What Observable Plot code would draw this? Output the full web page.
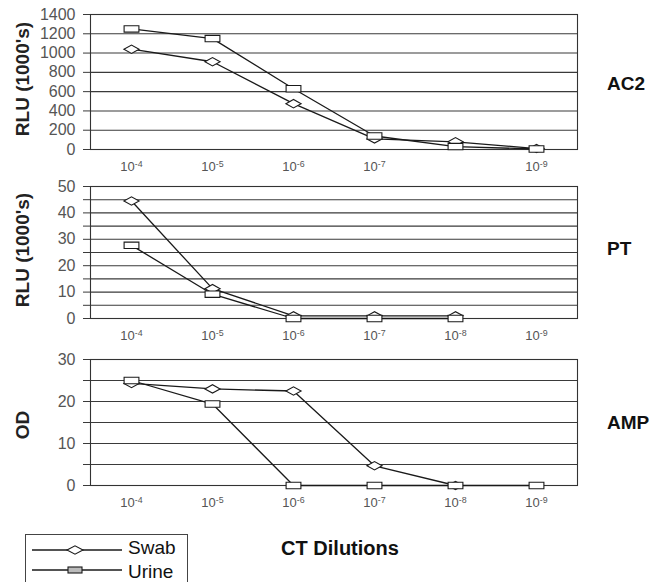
<!DOCTYPE html>
<html><head><meta charset="utf-8">
<script src="https://cdn.jsdelivr.net/npm/d3@7"></script>
<script src="https://cdn.jsdelivr.net/npm/@observablehq/plot@0.6"></script>
<style>
body{margin:0;background:#fff;font-family:"Liberation Sans",Arial,Helvetica,sans-serif;}
#wrap{position:relative;width:654px;height:582px;overflow:hidden;background:#fff}
.panel{position:absolute;left:0}
.panel svg{overflow:visible}
.ytitle{position:absolute;font-weight:bold;font-size:19px;color:#222;transform:translate(-50%,-50%) rotate(-90deg);white-space:nowrap;line-height:1}
.rlabel{position:absolute;left:607px;font-weight:bold;font-size:19px;color:#111;transform:translateY(-50%);line-height:1}
#legend{position:absolute;left:25px;top:534px;width:163px;height:52px;border:1px solid #444;box-sizing:border-box}
#xtitle{position:absolute;left:340px;top:548px;transform:translate(-50%,-50%);font-weight:bold;font-size:20px;color:#111;white-space:nowrap;line-height:1}
</style></head>
<body><div id="wrap"></div>
<script>
// categories: CT dilution exponents (10^x)
const dilutions = [-4, -5, -6, -7, -8, -9];
const seriesNames = ["Swab", "Urine"];

// AC2 (RLU 1000's)
const ac2Swab  = [1040, 910, 475, 110, 80, 10];
const ac2Urine = [1250, 1150, 630, 140, 30, 5];
const ac2Labels = [0, 200, 400, 600, 800, 1000, 1200, 1400];
const ac2Grid   = [0, 200, 400, 600, 800, 1000, 1200, 1400];
const ac2XLabels = [-4, -5, -6, -7, -9];

// PT (RLU 1000's)
const ptSwab  = [44.5, 11.3, 1, 1, 1, null];
const ptUrine = [27.7, 9.2, 0, 0, 0, null];
const ptLabels = [0, 10, 20, 30, 40, 50];
const ptGrid   = [0, 5, 10, 15, 20, 25, 30, 35, 40, 45, 50];
const ptXLabels = [-4, -5, -6, -7, -8, -9];

// AMP (OD)
const ampSwab  = [24.3, 23, 22.5, 4.7, 0, null];
const ampUrine = [25, 19.4, 0, 0, 0, 0];
const ampLabels = [0, 10, 20, 30];
const ampGrid   = [0, 5, 10, 15, 20, 25, 30];
const ampXLabels = [-4, -5, -6, -7, -8, -9];

const panelTitles = ["RLU (1000's)", "RLU (1000's)", "OD"];
const panelNames = ["AC2", "PT", "AMP"];

const wideDiamond = {draw(ctx, size) {
  const r = Math.sqrt(size / Math.PI), w = r * 1.9, h = r * 1.05;
  ctx.moveTo(-w, 0); ctx.lineTo(0, -h); ctx.lineTo(w, 0); ctx.lineTo(0, h); ctx.closePath();
}};
const wideRect = {draw(ctx, size) {
  const r = Math.sqrt(size / Math.PI), w = r * 1.85, h = r * 0.8;
  ctx.rect(-w, -h, 2 * w, 2 * h);
}};

const wrap = document.getElementById("wrap");
const svgns = "http://www.w3.org/2000/svg";

function panel(cfg) {
  const rows = [];
  dilutions.forEach((d, i) => {
    if (cfg.swab[i] != null) rows.push({dil: d, series: "Swab", value: cfg.swab[i]});
  });
  dilutions.forEach((d, i) => {
    if (cfg.urine[i] != null) rows.push({dil: d, series: "Urine", value: cfg.urine[i]});
  });
  const ink = "#1a1a1a";
  const chart = Plot.plot({
    width: 654, height: 170,
    marginLeft: 90, marginRight: 77, marginTop: cfg.mt, marginBottom: cfg.mb,
    style: {fontFamily: "Liberation Sans, Arial, Helvetica, sans-serif", background: "transparent", overflow: "visible"},
    x: {type: "point", domain: dilutions, padding: 0.5, label: null},
    y: {domain: [0, cfg.max], label: null, nice: false},
    marks: [
      Plot.gridY(cfg.grid, {stroke: "#3a3a3a", strokeOpacity: 1, strokeWidth: 1.1}),
      Plot.frame({stroke: "#333", strokeWidth: 1.1}),
      Plot.axisY(cfg.grid, {tickSize: 7, tickPadding: 8, fontSize: 16, fill: "#555", stroke: "#3a3a3a",
        tickFormat: d => cfg.labels.includes(d) ? String(d) : "", label: null}),
      Plot.axisX(cfg.xlabels, {tickSize: 0, tickPadding: 12, fontSize: 13, fill: "#555",
        tickFormat: d => "10|" + d, label: null}),
      Plot.line(rows, {x: "dil", y: "value", z: "series", stroke: ink, strokeWidth: 1.3}),
      Plot.dot(rows.filter(d => d.series === "Swab"), {x: "dil", y: "value", r: 4, symbol: wideDiamond, fill: "white", stroke: ink, strokeWidth: 1.1}),
      Plot.dot(rows.filter(d => d.series === "Urine"), {x: "dil", y: "value", r: 4, symbol: wideRect, fill: "white", stroke: ink, strokeWidth: 1.1})
    ]
  });
  // superscript exponents in x tick labels
  chart.querySelectorAll("text").forEach(t => {
    if (t.textContent.startsWith("10|")) {
      const [b, e] = t.textContent.split("|");
      t.textContent = b;
      const ts = document.createElementNS(svgns, "tspan");
      ts.setAttribute("dy", "-0.45em");
      ts.setAttribute("font-size", "0.68em");
      ts.textContent = e;
      t.appendChild(ts);
    }
  });
  const div = document.createElement("div");
  div.className = "panel";
  div.style.top = cfg.top + "px";
  div.appendChild(chart);
  wrap.appendChild(div);

  const yt = document.createElement("div");
  yt.className = "ytitle";
  yt.style.left = "22px"; yt.style.top = cfg.ty + "px";
  yt.textContent = cfg.title;
  wrap.appendChild(yt);

  const rl = document.createElement("div");
  rl.className = "rlabel";
  rl.style.top = cfg.ry + "px";
  rl.textContent = cfg.name;
  wrap.appendChild(rl);
}

panel({top: 0, mt: 14, mb: 21, max: 1400, swab: ac2Swab, urine: ac2Urine, grid: ac2Grid, labels: ac2Labels, xlabels: ac2XLabels, title: panelTitles[0], name: panelNames[0], ty: 79, ry: 83});
panel({top: 170, mt: 16, mb: 22, max: 50, swab: ptSwab, urine: ptUrine, grid: ptGrid, labels: ptLabels, xlabels: ptXLabels, title: panelTitles[1], name: panelNames[1], ty: 250, ry: 248});
panel({top: 340, mt: 19, mb: 25, max: 30, swab: ampSwab, urine: ampUrine, grid: ampGrid, labels: ampLabels, xlabels: ampXLabels, title: panelTitles[2], name: panelNames[2], ty: 425, ry: 422});

// legend
const lg = document.createElement("div");
lg.id = "legend";
lg.innerHTML = `<svg width="163" height="52" style="position:absolute;left:-1px;top:-1px">
  <line x1="7" x2="97" y1="16" y2="16" stroke="#1a1a1a" stroke-width="1.3"/>
  <path d="M42,16 L50,11.8 L58,16 L50,20.2 Z" fill="white" stroke="#1a1a1a" stroke-width="1.1"/>
  <text x="103" y="20" font-size="19" fill="#111" font-family="Liberation Sans, Arial, sans-serif">${seriesNames[0]}</text>
  <line x1="7" x2="97" y1="36" y2="36" stroke="#1a1a1a" stroke-width="1.3"/>
  <rect x="43" y="33" width="14" height="6" fill="#bbb" stroke="#1a1a1a" stroke-width="1.1"/>
  <text x="103" y="44" font-size="19" fill="#111" font-family="Liberation Sans, Arial, sans-serif">${seriesNames[1]}</text>
</svg>`;
wrap.appendChild(lg);

const xt = document.createElement("div");
xt.id = "xtitle";
xt.textContent = "CT Dilutions";
wrap.appendChild(xt);
</script>
</body></html>
